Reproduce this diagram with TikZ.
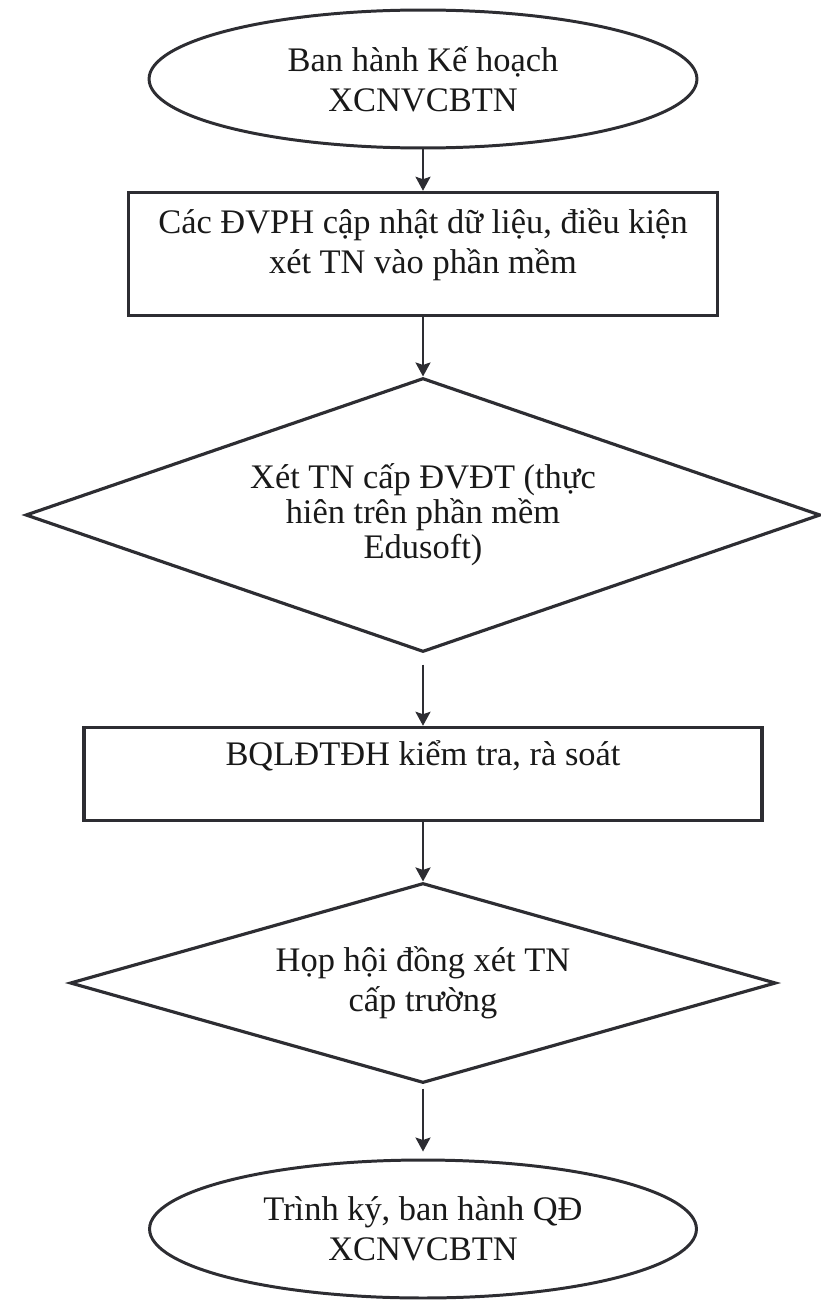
\documentclass[tikz,border=0pt]{standalone}
\usepackage{fontspec}
\setmainfont{Liberation Serif}
\definecolor{inkgray}{RGB}{45, 45, 50}
\usetikzlibrary{shapes.geometric, arrows.meta}

\begin{document}
\begin{tikzpicture}[x=0.02cm, y=-0.02cm,
  flowtext/.style={text=black!90, align=center, inner sep=0pt, font=\fontsize{19.6}{22.7}\selectfont},
  termnode/.style={flowtext, draw=inkgray, line width=1.7pt, ellipse, minimum width=10.96cm, minimum height=2.76cm},
  procbox/.style={flowtext, draw=inkgray, line width=2pt, rectangle},
  decision/.style={flowtext, draw=inkgray, line width=1.8pt, diamond},
  arr/.style={draw=inkgray, line width=1.3pt, -{Stealth[length=0.28cm, width=0.3cm, inset=0.05cm]}}
]
  \useasboundingbox (0,0) rectangle (821,1301);

  \node[termnode] (plan) at (423, 79) {Ban hành Kế hoạch\\XCNVCBTN};
  \node[procbox, minimum width=11.78cm, text height=1.62cm, text depth=0.84cm] (update) at (423, 254)
    {Các ĐVPH cập nhật dữ liệu, điều kiện\\xét TN vào phần mềm};
  \node[decision, minimum width=15.9cm, minimum height=5.48cm, aspect=2.9, font=\fontsize{19.6}{19.9}\selectfont] (unitcheck) at (423, 515)
    {Xét TN cấp ĐVĐT (thực\\hiên trên phần mềm\\Edusoft)};
  \node[procbox, minimum width=13.56cm, text height=0.76cm, text depth=1.1cm] (review) at (423, 774)
    {BQLĐTĐH kiểm tra, rà soát};
  \node[decision, minimum width=14.12cm, minimum height=4cm, aspect=3.53] (council) at (423, 983)
    {Họp hội đồng xét TN\\cấp trường};
  \node[termnode, minimum width=10.94cm] (issue) at (423, 1229) {Trình ký, ban hành QĐ\\XCNVCBTN};

  \draw[arr] (plan) -- (update);
  \draw[arr] (update) -- (unitcheck);
  \draw[arr, shorten <=0.22cm] (unitcheck) -- (review);
  \draw[arr] (review) -- (council);
  \draw[arr, shorten <=0.08cm, shorten >=0.14cm] (council) -- (issue);
\end{tikzpicture}
\end{document}
